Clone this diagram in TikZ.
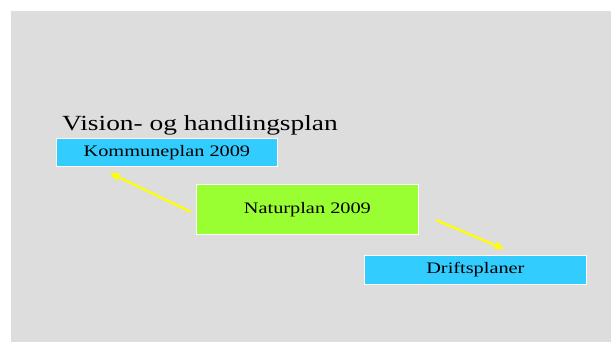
\documentclass[tikz,border=0pt]{standalone}
\usepackage{fontspec}
\setmainfont{Liberation Serif}
\usetikzlibrary{arrows.meta}
\definecolor{bg}{HTML}{DDDDDD}
\definecolor{cyanbox}{HTML}{33CCFF}
\definecolor{greenbox}{HTML}{99FF33}
\definecolor{arrowyellow}{HTML}{FFFF00}
\newcommand{\wide}[1]{\scalebox{1.27}[1]{#1}}
\tikzset{
  planbox/.style={draw=white, line width=0.8pt, inner sep=0pt, anchor=north west, font=\fontsize{16}{18}\selectfont},
  yarrow/.style={draw=arrowyellow, line width=2.2pt, -{Triangle[length=9pt,width=8pt]}}
}
\begin{document}
\begin{tikzpicture}[x=1pt,y=-1pt]
\useasboundingbox (0,0) rectangle (611,342);
\fill[bg] (11,11) rectangle (611,342);
\node[anchor=base west, font=\fontsize{21.6}{24}\selectfont, inner sep=0pt] (title) at (62,131) {\wide{Vision- og handlingsplan}};
\node[planbox, fill=cyanbox, minimum width=221pt, minimum height=28pt] (komm) at (56,138) {\wide{Kommuneplan 2009}};
\node[planbox, fill=greenbox, minimum width=222pt, minimum height=50pt] (natur) at (196,184) {\wide{Naturplan 2009}};
\node[planbox, fill=cyanbox, minimum width=222pt, minimum height=29pt] (drift) at (364,255) {\wide{Driftsplaner}};
\coordinate (a1s) at (191,212);
\coordinate (a1e) at (110,173);
\coordinate (a2s) at (436,220);
\coordinate (a2e) at (504,249);
\draw[yarrow] (a1s) -- (a1e);
\draw[yarrow] (a2s) -- (a2e);
\end{tikzpicture}
\end{document}
